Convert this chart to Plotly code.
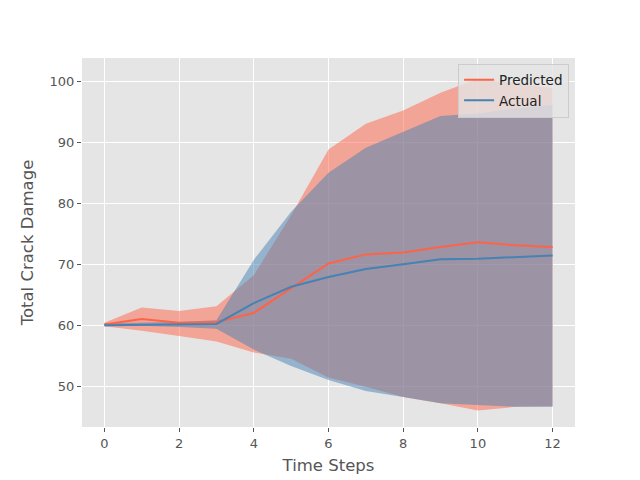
import plotly.graph_objects as go

steps = list(range(13))
pred_mean = [60.1, 61.0, 60.4, 60.5, 62.0, 66.1, 70.1, 71.6, 71.9, 72.8, 73.6, 73.1, 72.8]
pred_upper = [60.4, 62.9, 62.3, 63.1, 68.2, 78.0, 88.8, 93.0, 95.2, 98.1, 100.4, 99.6, 98.9]
pred_lower = [59.8, 59.1, 58.2, 57.3, 55.5, 54.5, 51.4, 49.9, 48.2, 47.2, 46.0, 46.6, 46.7]
act_mean = [60.0, 60.1, 60.1, 60.2, 63.6, 66.3, 67.9, 69.2, 70.0, 70.8, 70.9, 71.1, 71.4]
act_upper = [60.3, 60.4, 60.5, 60.8, 70.7, 78.6, 85.0, 89.1, 91.7, 94.3, 94.7, 95.5, 96.1]
act_lower = [59.8, 59.9, 59.7, 59.4, 56.0, 53.3, 51.0, 49.2, 48.2, 47.2, 46.9, 46.6, 46.6]

RED = "#FF6347"
BLUE = "#4682B4"

fig = go.Figure()
fig.add_trace(go.Scatter(x=steps + steps[::-1], y=pred_upper + pred_lower[::-1],
                         fill="toself", fillcolor="rgba(255,99,71,0.5)",
                         line=dict(width=0), mode="lines", showlegend=False, hoverinfo="skip"))
fig.add_trace(go.Scatter(x=steps + steps[::-1], y=act_upper + act_lower[::-1],
                         fill="toself", fillcolor="rgba(70,130,180,0.5)",
                         line=dict(width=0), mode="lines", showlegend=False, hoverinfo="skip"))
fig.add_trace(go.Scatter(x=steps, y=pred_mean, mode="lines", name="Predicted",
                         line=dict(color=RED, width=2)))
fig.add_trace(go.Scatter(x=steps, y=act_mean, mode="lines", name="Actual",
                         line=dict(color=BLUE, width=2)))

axis_common = dict(showgrid=True, gridcolor="white", gridwidth=1, zeroline=False,
                   ticks="outside", ticklen=4, tickcolor="#555555",
                   tickfont=dict(size=13, color="#555555", family="DejaVu Sans"),
                   showline=False, automargin=False)
fig.update_xaxes(range=[-0.6, 12.6], dtick=2, tick0=0,
                 title=dict(text="Time Steps", font=dict(size=16.5, color="#555555", family="DejaVu Sans"), standoff=9),
                 **axis_common)
fig.update_yaxes(range=[43.3, 103.8], dtick=10, tick0=0,
                 title=dict(text="Total Crack Damage", font=dict(size=16.5, color="#555555", family="DejaVu Sans"), standoff=11),
                 **axis_common)

fig.update_layout(
    width=632, height=472,
    margin=dict(l=74, r=65, t=50, b=53),
    paper_bgcolor="white", plot_bgcolor="#E5E5E5",
    font=dict(family="DejaVu Sans", color="#555555"),
    legend=dict(x=0.988, y=0.985, xanchor="right", yanchor="top",
                bgcolor="rgba(229,229,229,0.8)", bordercolor="#CCCCCC", borderwidth=1,
                font=dict(size=13.5, color="#222222", family="DejaVu Sans")),
)

fig.write_html("out.html")
